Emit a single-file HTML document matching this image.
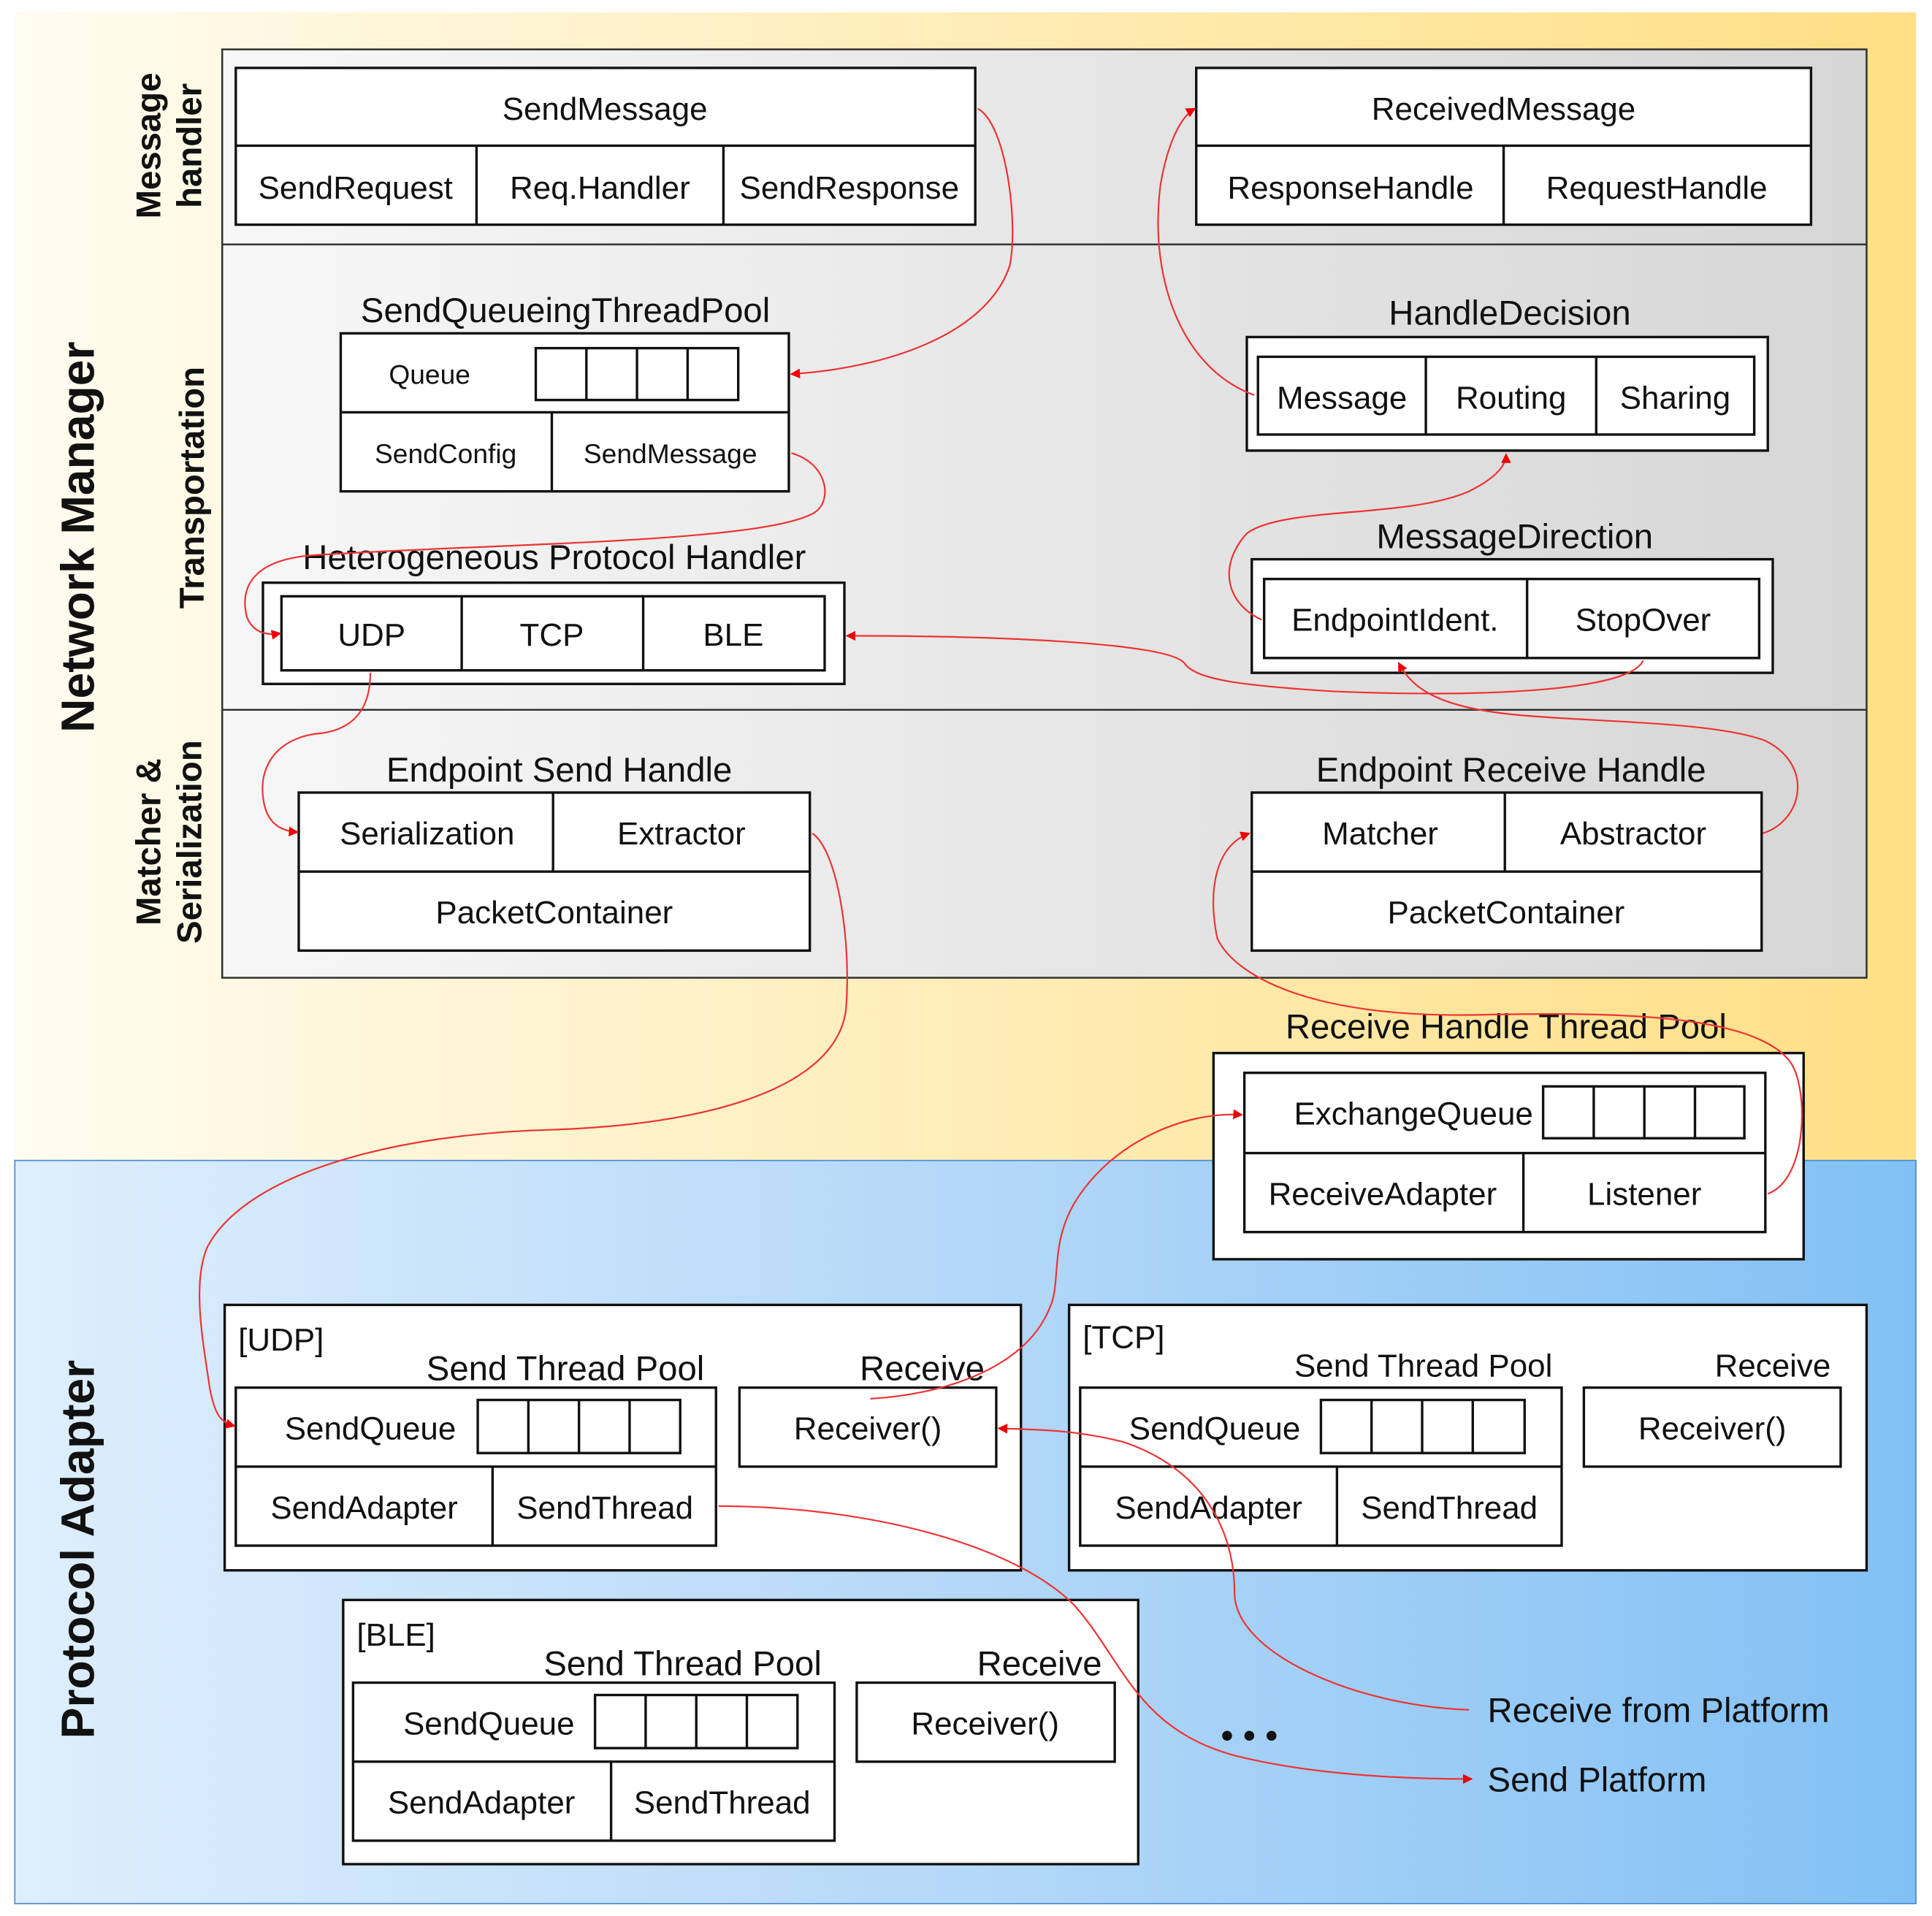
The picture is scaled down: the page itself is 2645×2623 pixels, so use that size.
<!DOCTYPE html>
<html><head><meta charset="utf-8"><style>
html,body{margin:0;padding:0;background:#fff;}
svg{display:block;}
text{font-family:"Liberation Sans",sans-serif;fill:#111;}
</style></head><body>
<svg width="2645" height="2623" viewBox="0 0 1565 1552" preserveAspectRatio="none" xmlns="http://www.w3.org/2000/svg">
<defs>
<linearGradient id="yel" x1="0" x2="1" y1="0" y2="0"><stop offset="0" stop-color="#fffcf0"/><stop offset="0.5" stop-color="#ffedb8"/><stop offset="1" stop-color="#ffdf85"/></linearGradient>
<linearGradient id="blu" x1="0" x2="1" y1="0" y2="0"><stop offset="0" stop-color="#deeefc"/><stop offset="0.5" stop-color="#b4d8f8"/><stop offset="1" stop-color="#82c0f4"/></linearGradient>
<linearGradient id="gry" x1="0" x2="1" y1="0" y2="0"><stop offset="0" stop-color="#f7f7f7"/><stop offset="1" stop-color="#d6d6d6"/></linearGradient>
<marker id="ar" markerWidth="8" markerHeight="8" refX="7" refY="4" orient="auto" markerUnits="userSpaceOnUse"><path d="M0,0 L8,4 L0,8 z" fill="#e00"/></marker>
</defs>
<rect x="12" y="10" width="1540" height="930" fill="url(#yel)"/>
<rect x="12" y="940" width="1540" height="602" fill="url(#blu)" stroke="#4a8ad0" stroke-width="1"/>
<rect x="180" y="40" width="1332" height="752" fill="url(#gry)" stroke="#333" stroke-width="1.5"/>
<line x1="180" y1="198" x2="1512" y2="198" stroke="#333" stroke-width="1.5"/>
<line x1="180" y1="575" x2="1512" y2="575" stroke="#333" stroke-width="1.5"/>

<g font-weight="bold">
<text transform="translate(76,435) rotate(-90)" text-anchor="middle" font-size="38">Network Manager</text>
<text transform="translate(76,1255) rotate(-90)" text-anchor="middle" font-size="38">Protocol Adapter</text>
<text transform="translate(130,118) rotate(-90)" text-anchor="middle" font-size="28">Message</text>
<text transform="translate(163,118) rotate(-90)" text-anchor="middle" font-size="28">handler</text>
<text transform="translate(165,395) rotate(-90)" text-anchor="middle" font-size="28">Transportation</text>
<text transform="translate(130,682) rotate(-90)" text-anchor="middle" font-size="28">Matcher &amp;</text>
<text transform="translate(163,682) rotate(-90)" text-anchor="middle" font-size="28">Serialization</text>
</g>

<g fill="#fff" stroke="#111" stroke-width="2">
<rect x="191" y="55" width="599" height="127"/>
<rect x="969" y="55" width="498" height="127"/>
<rect x="276" y="270" width="363" height="128"/>
<rect x="434" y="282" width="164" height="42"/>
<rect x="1010" y="273" width="422" height="92"/>
<rect x="1019" y="289" width="402" height="63"/>
<rect x="213" y="472" width="471" height="82"/>
<rect x="228" y="483" width="440" height="60"/>
<rect x="1014" y="453" width="422" height="92"/>
<rect x="1024" y="469" width="401" height="64"/>
<rect x="242" y="642" width="414" height="128"/>
<rect x="1014" y="642" width="413" height="128"/>
<rect x="983" y="853" width="478" height="167"/>
<rect x="1008" y="869" width="422" height="129"/>
<rect x="1250" y="880" width="163" height="42"/>
<rect x="182" y="1057" width="645" height="215"/>
<rect x="191" y="1124" width="389" height="128"/>
<rect x="387" y="1134" width="164" height="43"/>
<rect x="599" y="1124" width="208" height="64"/>
<rect x="866" y="1057" width="646" height="215"/>
<rect x="875" y="1124" width="390" height="128"/>
<rect x="1070" y="1134" width="165" height="43"/>
<rect x="1283" y="1124" width="208" height="64"/>
<rect x="278" y="1296" width="644" height="214"/>
<rect x="286" y="1363" width="390" height="128"/>
<rect x="482" y="1373" width="164" height="43"/>
<rect x="694" y="1363" width="209" height="64"/>
</g>
<g stroke="#111" stroke-width="2" fill="none">
<path d="M191,118H790M386,118V182M586,118V182"/>
<path d="M969,118H1467M1218,118V182"/>
<path d="M276,334H639M447,334V398M475,282V324M516,282V324M557,282V324"/>
<path d="M1155,289V352M1293,289V352"/>
<path d="M374,483V543M521,483V543"/>
<path d="M1237,469V533"/>
<path d="M242,706H656M448,642V706"/>
<path d="M1014,706H1427M1219,642V706"/>
<path d="M1008,934H1430M1234,934V998M1291,880V922M1332,880V922M1373,880V922"/>
<path d="M191,1188H580M399,1188V1252M428,1134V1177M469,1134V1177M510,1134V1177"/>
<path d="M875,1188H1265M1083,1188V1252M1111,1134V1177M1152,1134V1177M1193,1134V1177"/>
<path d="M286,1427H676M495,1427V1491M523,1373V1416M564,1373V1416M605,1373V1416"/>
</g>

<g font-size="26" text-anchor="middle">
<text x="490" y="97">SendMessage</text>
<text x="288" y="161">SendRequest</text>
<text x="486" y="161">Req.Handler</text>
<text x="688" y="161">SendResponse</text>
<text x="1218" y="97">ReceivedMessage</text>
<text x="1094" y="161">ResponseHandle</text>
<text x="1342" y="161">RequestHandle</text>
<text x="458" y="261" font-size="28">SendQueueingThreadPool</text>
<text x="348" y="311" font-size="22">Queue</text>
<text x="361" y="375" font-size="22">SendConfig</text>
<text x="543" y="375" font-size="22">SendMessage</text>
<text x="1223" y="263" font-size="28">HandleDecision</text>
<text x="1087" y="331">Message</text>
<text x="1224" y="331">Routing</text>
<text x="1357" y="331">Sharing</text>
<text x="449" y="461" font-size="28">Heterogeneous Protocol Handler</text>
<text x="301" y="523">UDP</text>
<text x="447" y="523">TCP</text>
<text x="594" y="523">BLE</text>
<text x="1227" y="444" font-size="28">MessageDirection</text>
<text x="1130" y="511">EndpointIdent.</text>
<text x="1331" y="511">StopOver</text>
<text x="453" y="633" font-size="28">Endpoint Send Handle</text>
<text x="346" y="684">Serialization</text>
<text x="552" y="684">Extractor</text>
<text x="449" y="748">PacketContainer</text>
<text x="1224" y="633" font-size="28">Endpoint Receive Handle</text>
<text x="1118" y="684">Matcher</text>
<text x="1323" y="684">Abstractor</text>
<text x="1220" y="748">PacketContainer</text>
<text x="1220" y="841" font-size="28">Receive Handle Thread Pool</text>
<text x="1145" y="911">ExchangeQueue</text>
<text x="1120" y="976">ReceiveAdapter</text>
<text x="1332" y="976">Listener</text>
<text x="458" y="1118" font-size="28">Send Thread Pool</text>
<text x="747" y="1118" font-size="28">Receive</text>
<text x="300" y="1166">SendQueue</text>
<text x="703" y="1166">Receiver()</text>
<text x="295" y="1230">SendAdapter</text>
<text x="490" y="1230">SendThread</text>
<text x="1153" y="1115">Send Thread Pool</text>
<text x="1436" y="1115">Receive</text>
<text x="984" y="1166">SendQueue</text>
<text x="1387" y="1166">Receiver()</text>
<text x="979" y="1230">SendAdapter</text>
<text x="1174" y="1230">SendThread</text>
<text x="553" y="1357" font-size="28">Send Thread Pool</text>
<text x="842" y="1357" font-size="28">Receive</text>
<text x="396" y="1405">SendQueue</text>
<text x="798" y="1405">Receiver()</text>
<text x="390" y="1469">SendAdapter</text>
<text x="585" y="1469">SendThread</text>
</g>
<g font-size="26">
<text x="193" y="1094">[UDP]</text>
<text x="877" y="1092">[TCP]</text>
<text x="289" y="1333">[BLE]</text>
<text x="1205" y="1395" font-size="28">Receive from Platform</text>
<text x="1205" y="1451" font-size="28">Send Platform</text>
</g>
<g fill="#111"><circle cx="994" cy="1406" r="4"/><circle cx="1012" cy="1406" r="4"/><circle cx="1030" cy="1406" r="4"/></g>

<g fill="none" stroke="#e33" stroke-width="1.3">
<path d="M792,88 C815,100 825,180 818,215 C800,270 720,298 641,303" marker-end="url(#ar)"/>
<path d="M1016,320 C960,300 930,230 940,150 C945,120 955,95 968,88" marker-end="url(#ar)"/>
<path d="M641,367 C670,375 675,405 660,415 C620,440 400,440 250,450 C200,455 195,480 200,500 C205,512 215,515 227,513" marker-end="url(#ar)"/>
<path d="M1022,502 C995,490 985,460 1010,432 C1040,410 1140,420 1190,398 C1210,388 1220,378 1220,368" marker-end="url(#ar)"/>
<path d="M1331,535 C1320,560 1200,565 1080,560 C1000,555 970,550 960,538 C950,520 800,515 686,515" marker-end="url(#ar)"/>
<path d="M300,545 C300,570 290,590 260,594 C225,597 210,620 213,645 C215,665 225,673 241,674" marker-end="url(#ar)"/>
<path d="M1428,675 C1460,665 1470,620 1430,600 C1390,585 1300,585 1240,580 C1170,575 1145,560 1133,537" marker-end="url(#ar)"/>
<path d="M658,675 C680,690 690,770 685,820 C675,880 580,910 450,915 C320,918 200,950 168,1010 C155,1040 165,1090 170,1125 C174,1145 178,1152 190,1155" marker-end="url(#ar)"/>
<path d="M1432,967 C1465,955 1465,880 1450,860 C1420,820 1300,820 1200,822 C1060,825 1000,790 986,760 C978,720 985,685 1012,675" marker-end="url(#ar)"/>
<path d="M705,1133 C760,1130 830,1110 850,1060 C860,1040 850,1010 870,975 C900,925 960,900 1006,903" marker-end="url(#ar)"/>
<path d="M1190,1385 C1100,1382 1000,1340 1000,1290 C1000,1240 975,1190 910,1168 C870,1158 840,1158 809,1157" marker-end="url(#ar)"/>
<path d="M582,1220 C700,1220 820,1250 870,1300 C910,1345 920,1400 1000,1422 C1060,1437 1130,1441 1192,1441" marker-end="url(#ar)"/>
</g>
</svg>
</body></html>
